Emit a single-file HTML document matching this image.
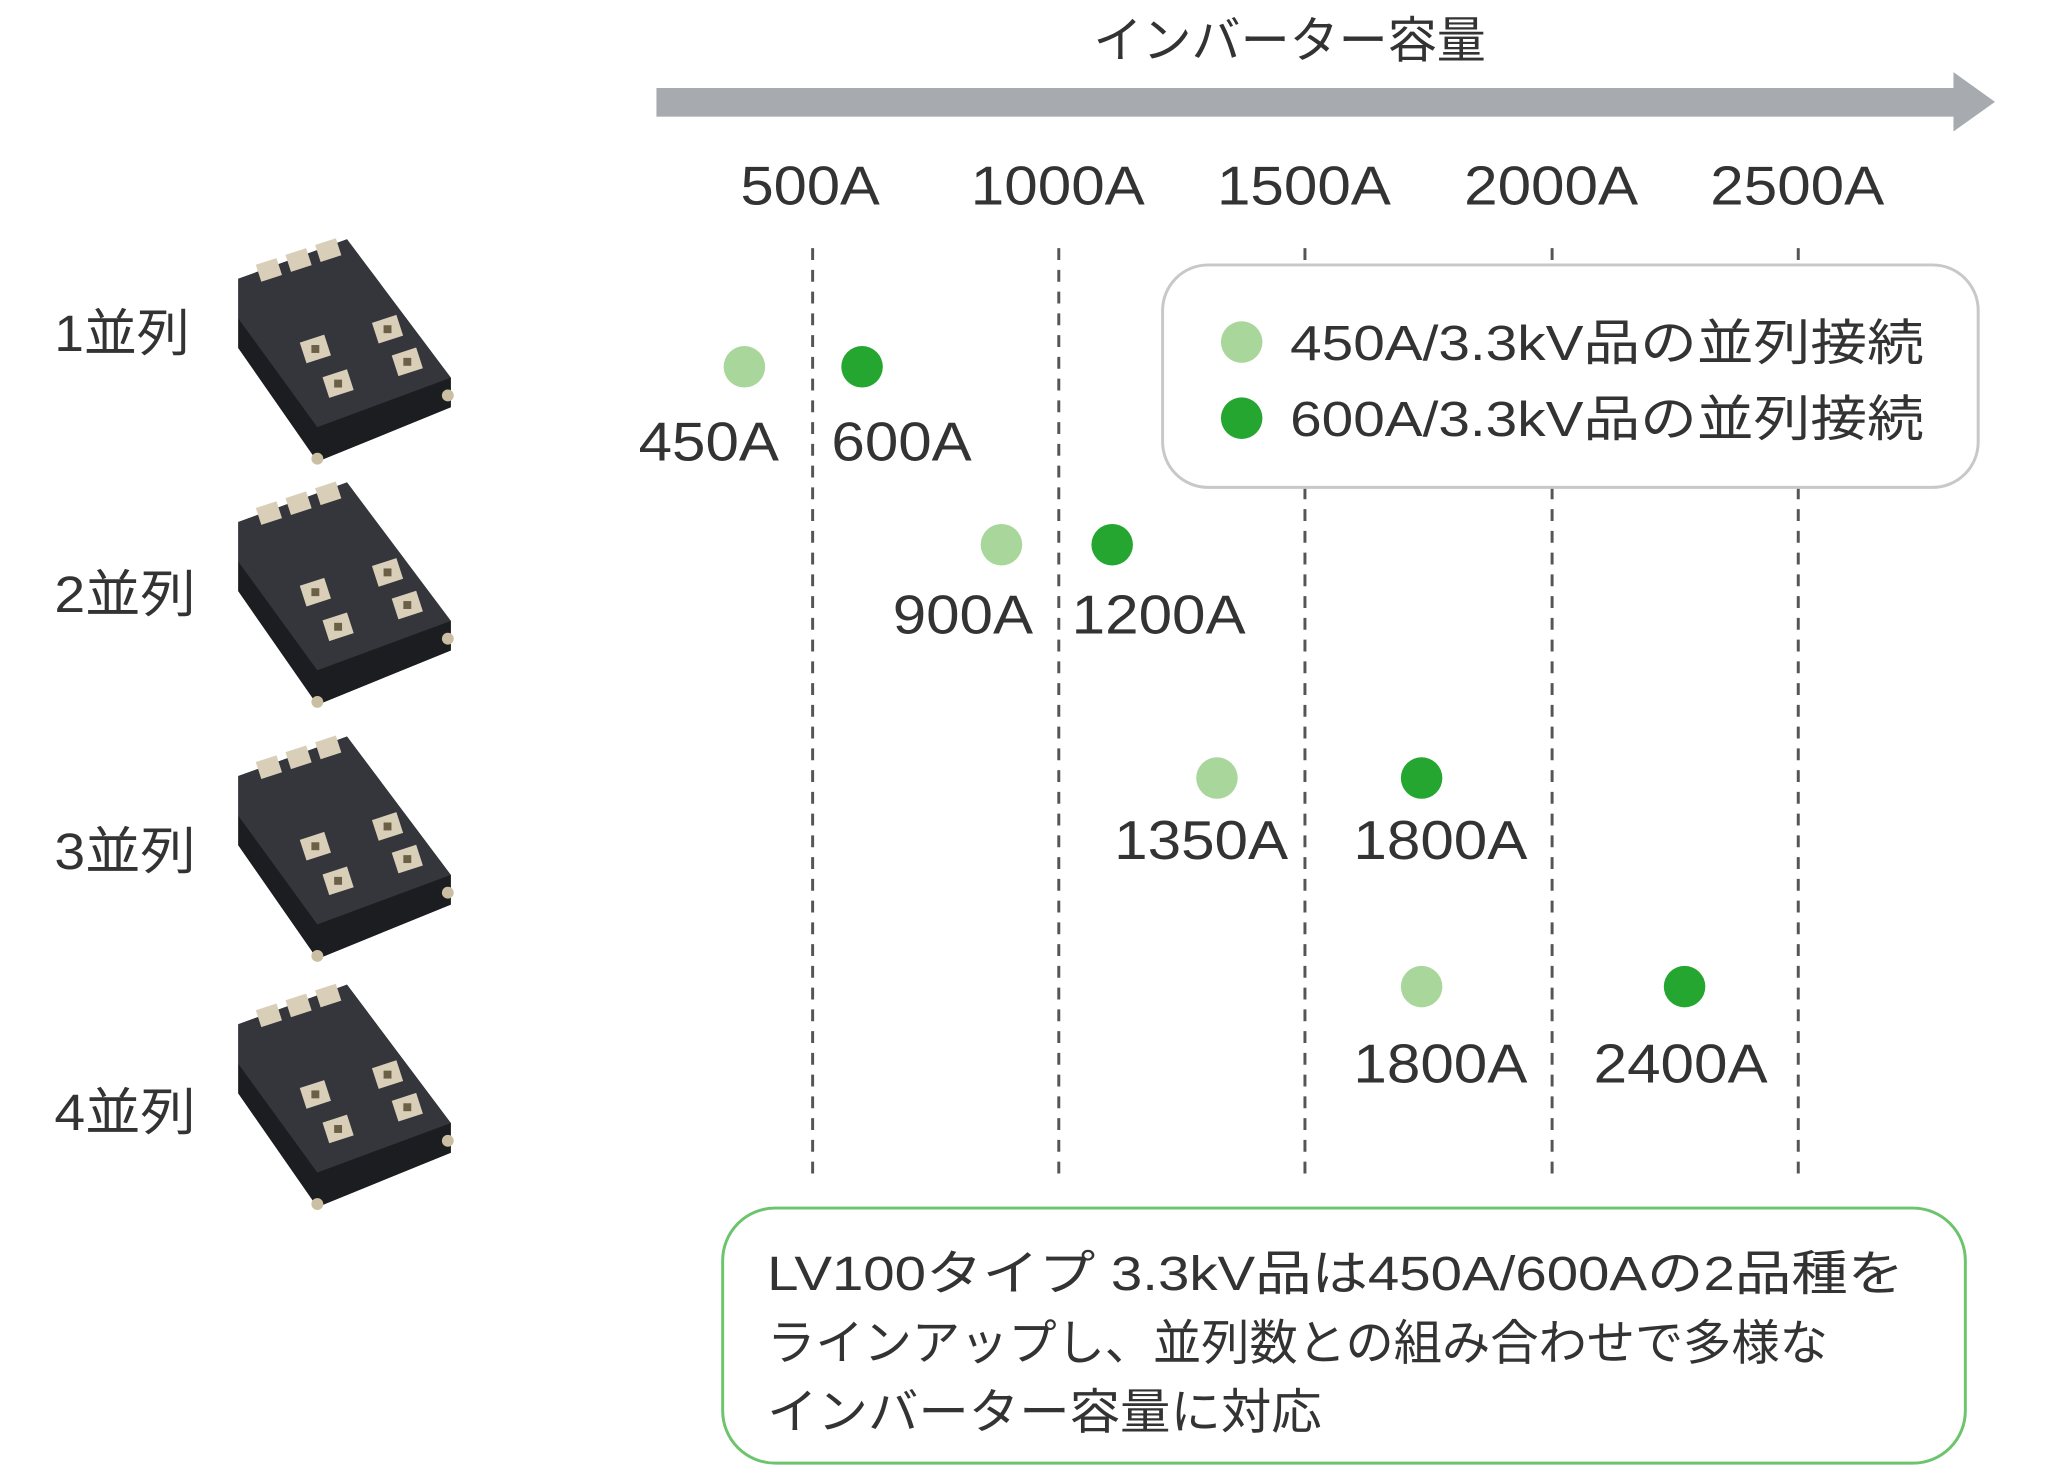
<!DOCTYPE html>
<html><head><meta charset="utf-8"><style>
html,body{margin:0;padding:0;background:#fff}
svg{display:block}
text{font-family:"Liberation Sans","Noto Sans CJK JP",sans-serif;fill:#333}
</style></head><body>
<svg width="2048" height="1483" viewBox="0 0 2048 1483" xmlns="http://www.w3.org/2000/svg">
<defs>
<g id="mod">
  <polygon points="10,40 120,0 225,140 225,170 90,225 10,110" fill="#2a2c31"/>
  <polygon points="10,110 90,225 225,170 225,140 90,190 10,80" fill="#1c1d21"/>
  <polygon points="10,40 120,0 225,140 90,190 10,80" fill="#34363c"/>
  <g fill="#d9cfb8">
    <rect x="30" y="22" width="22" height="18" transform="rotate(-18 41 31)"/>
    <rect x="60" y="12" width="22" height="18" transform="rotate(-18 71 21)"/>
    <rect x="90" y="2" width="22" height="18" transform="rotate(-18 101 11)"/>
    <rect x="75" y="100" width="26" height="22" transform="rotate(-18 88 111)"/>
    <rect x="148" y="80" width="26" height="22" transform="rotate(-18 161 91)"/>
    <rect x="98" y="135" width="26" height="22" transform="rotate(-18 111 146)"/>
    <rect x="168" y="113" width="26" height="22" transform="rotate(-18 181 124)"/>
  </g>
  <g fill="#6b5f45">
    <rect x="84" y="107" width="8" height="8"/><rect x="157" y="87" width="8" height="8"/>
    <rect x="107" y="142" width="8" height="8"/><rect x="177" y="120" width="8" height="8"/>
  </g>
  <circle cx="222" cy="158" r="6" fill="#cbbfa3"/>
  <circle cx="90" cy="222" r="6" fill="#cbbfa3"/>
</g>
</defs>
<g transform="scale(0.9886)">
<text x="1106" y="58" font-size="50" textLength="397" lengthAdjust="spacingAndGlyphs">インバーター容量</text>
<rect x="664" y="89" width="1320" height="29" fill="#a7abaf"/>
<polygon points="1976,73 2018,103 1976,133" fill="#a7abaf"/>

<g font-size="55">
<text x="749" y="207" textLength="141" lengthAdjust="spacingAndGlyphs">500A</text>
<text x="982" y="207" textLength="176" lengthAdjust="spacingAndGlyphs">1000A</text>
<text x="1231" y="207" textLength="176" lengthAdjust="spacingAndGlyphs">1500A</text>
<text x="1481" y="207" textLength="176" lengthAdjust="spacingAndGlyphs">2000A</text>
<text x="1730" y="207" textLength="176" lengthAdjust="spacingAndGlyphs">2500A</text>
</g>

<g stroke="#555" stroke-width="3" stroke-dasharray="12,10">
<line x1="822" y1="251" x2="822" y2="1190"/>
<line x1="1071" y1="251" x2="1071" y2="1190"/>
<line x1="1320" y1="251" x2="1320" y2="1190"/>
<line x1="1570" y1="251" x2="1570" y2="1190"/>
<line x1="1819" y1="251" x2="1819" y2="1190"/>
</g>

<rect x="1176" y="268" width="825" height="225" rx="46" fill="#fff" stroke="#c8c8c8" stroke-width="3"/>
<circle cx="1256" cy="346" r="21" fill="#a9d79b"/>
<circle cx="1256" cy="423" r="21" fill="#24a631"/>
<g font-size="50">
<text x="1305" y="364" textLength="641" lengthAdjust="spacingAndGlyphs">450A/3.3kV品の並列接続</text>
<text x="1305" y="441" textLength="641" lengthAdjust="spacingAndGlyphs">600A/3.3kV品の並列接続</text>
</g>

<g fill="#a9d79b">
<circle cx="753" cy="371" r="21"/><circle cx="1013" cy="551" r="21"/>
<circle cx="1231" cy="787" r="21"/><circle cx="1438" cy="998" r="21"/>
</g>
<g fill="#24a631">
<circle cx="872" cy="371" r="21"/><circle cx="1125" cy="551" r="21"/>
<circle cx="1438" cy="787" r="21"/><circle cx="1704" cy="998" r="21"/>
</g>

<g font-size="55">
<text x="646" y="466" textLength="142" lengthAdjust="spacingAndGlyphs">450A</text>
<text x="841" y="466" textLength="142" lengthAdjust="spacingAndGlyphs">600A</text>
<text x="903" y="641" textLength="142" lengthAdjust="spacingAndGlyphs">900A</text>
<text x="1084" y="641" textLength="176" lengthAdjust="spacingAndGlyphs">1200A</text>
<text x="1127" y="869" textLength="176" lengthAdjust="spacingAndGlyphs">1350A</text>
<text x="1369" y="869" textLength="176" lengthAdjust="spacingAndGlyphs">1800A</text>
<text x="1369" y="1095" textLength="176" lengthAdjust="spacingAndGlyphs">1800A</text>
<text x="1612" y="1095" textLength="176" lengthAdjust="spacingAndGlyphs">2400A</text>
</g>

<g font-size="52">
<text x="55" y="355" textLength="137" lengthAdjust="spacingAndGlyphs">1並列</text>
<text x="55" y="619" textLength="143" lengthAdjust="spacingAndGlyphs">2並列</text>
<text x="55" y="879" textLength="143" lengthAdjust="spacingAndGlyphs">3並列</text>
<text x="55" y="1143" textLength="143" lengthAdjust="spacingAndGlyphs">4並列</text>
</g>

<use href="#mod" x="231" y="242"/>
<use href="#mod" x="231" y="488"/>
<use href="#mod" x="231" y="745"/>
<use href="#mod" x="231" y="996"/>

<rect x="731" y="1222" width="1257" height="258" rx="53" fill="#fff" stroke="#6cc46c" stroke-width="3"/>
<g font-size="49">
<text x="776" y="1305" textLength="1150" lengthAdjust="spacingAndGlyphs">LV100タイプ 3.3kV品は450A/600Aの2品種を</text>
<text x="776" y="1375" textLength="1073" lengthAdjust="spacingAndGlyphs">ラインアップし、並列数との組み合わせで多様な</text>
<text x="776" y="1445" textLength="561" lengthAdjust="spacingAndGlyphs">インバーター容量に対応</text>
</g>
</g>
</svg>
</body></html>
